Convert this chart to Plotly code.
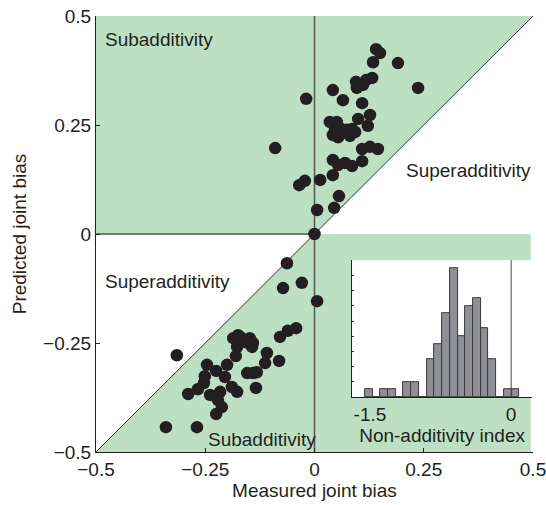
import plotly.graph_objects as go

# ---- data ----
measured = [0.141, 0.150, 0.134, 0.191, 0.237, 0.132, 0.118, 0.095, 0.097, 0.111,
            0.042, 0.065, 0.109, -0.019, 0.127, 0.100, 0.035, 0.051, 0.122, 0.042,
            0.047, 0.058, 0.074, 0.086, 0.093, 0.081, 0.054, 0.109, 0.127, 0.145,
            0.042, 0.054, 0.070, 0.086, 0.109, 0.042, 0.013, -0.022, -0.035, 0.056,
            0.006, 0.045, -0.090, 0.000,
            -0.315, -0.340, -0.269, -0.246, -0.251, -0.225, -0.200, -0.205, -0.289, -0.267,
            -0.253, -0.239, -0.216, -0.221, -0.212, -0.225, -0.189, -0.177, -0.180, -0.177,
            -0.186, -0.175, -0.148, -0.141, -0.143, -0.154, -0.141, -0.132, -0.109, -0.113,
            -0.081, -0.134, -0.079, -0.061, -0.042, -0.063, -0.072, -0.029, 0.006, -0.170,
            -0.157]
predicted = [0.424, 0.415, 0.394, 0.392, 0.335, 0.358, 0.353, 0.349, 0.335, 0.342,
             0.330, 0.307, 0.300, 0.310, 0.273, 0.264, 0.257, 0.257, 0.248, 0.227,
             0.239, 0.243, 0.239, 0.241, 0.234, 0.225, 0.222, 0.195, 0.200, 0.195,
             0.170, 0.158, 0.163, 0.156, 0.167, 0.135, 0.124, 0.122, 0.112, 0.087,
             0.055, 0.060, 0.197, 0.000,
             -0.278, -0.443, -0.443, -0.300, -0.326, -0.314, -0.300, -0.328, -0.367, -0.356,
             -0.342, -0.369, -0.362, -0.381, -0.397, -0.413, -0.351, -0.362, -0.280, -0.259,
             -0.239, -0.232, -0.239, -0.250, -0.259, -0.319, -0.319, -0.317, -0.273, -0.296,
             -0.291, -0.353, -0.236, -0.222, -0.216, -0.067, -0.124, -0.112, -0.154, -0.236,
             -0.248]

hist_centers = [-1.512, -1.430, -1.348, -1.266, -1.184, -1.102, -1.020, -0.938, -0.856, -0.774,
                -0.692, -0.610, -0.528, -0.446, -0.364, -0.282, -0.200, -0.118, -0.036, 0.046]
hist_counts = [1, 0, 1, 1, 0, 2, 2, 0, 5, 7, 11, 17, 8, 12, 13, 9, 5, 0, 1, 1]
hist_width = 0.082

main_ticks = [-0.5, -0.25, 0, 0.25, 0.5]
main_ticktext = ["\u22120.5", "\u22120.25", "0", "0.25", "0.5"]
inset_ticks = [-1.5, 0]
inset_ticktext = ["-1.5", "0"]

FONT = "Liberation Sans, Arial, sans-serif"
GREEN = "rgb(189,224,196)"
FS = 19

fig = go.Figure()

fig.add_trace(go.Scatter(
    x=measured, y=predicted, mode="markers",
    marker=dict(size=12.5, color="#231f20", line=dict(width=0)),
    showlegend=False, hoverinfo="x+y", cliponaxis=False))

fig.add_trace(go.Bar(
    x=hist_centers, y=hist_counts, width=hist_width,
    marker=dict(color="#8e9095", line=dict(color="#3a3a3a", width=1)),
    xaxis="x2", yaxis="y2", showlegend=False))

shapes = [
    # green regions (subadditivity)
    dict(type="path", xref="x", yref="y", layer="below", line=dict(width=0),
         fillcolor=GREEN, path="M -0.5 0 L -0.5 0.5 L 0.5 0.5 L 0 0 Z"),
    dict(type="path", xref="x", yref="y", layer="below", line=dict(width=0),
         fillcolor=GREEN, path="M 0 0 L -0.5 -0.5 L 0.495 -0.5 L 0.495 0 Z"),
    # reference lines
    dict(type="line", xref="x", yref="y", x0=-0.5, y0=-0.5, x1=0.5, y1=0.5,
         line=dict(color="#333333", width=1), layer="above"),
    dict(type="line", xref="x", yref="y", x0=0, y0=-0.5, x1=0, y1=0.5,
         line=dict(color="#555555", width=1.5), layer="below"),
    dict(type="line", xref="x", yref="y", x0=-0.5, y0=0, x1=0, y1=0,
         line=dict(color="#555555", width=1.5), layer="below"),
    # inset white background
    dict(type="rect", xref="x2 domain", yref="y2 domain", x0=0, y0=0, x1=1, y1=1,
         fillcolor="white", line=dict(width=0), layer="below"),
    # inset zero line
    dict(type="line", xref="x2", yref="y2 domain", x0=0, y0=0, x1=0, y1=1,
         line=dict(color="#444444", width=1), layer="above"),
]

annotations = [
    dict(text="Subadditivity", x=-0.485, y=0.445, xref="x", yref="y",
         xanchor="left", yanchor="middle", showarrow=False),
    dict(text="Superadditivity", x=0.205, y=0.145, xref="x", yref="y",
         xanchor="left", yanchor="middle", showarrow=False),
    dict(text="Superadditivity", x=-0.485, y=-0.108, xref="x", yref="y",
         xanchor="left", yanchor="middle", showarrow=False),
    dict(text="Subadditivity", x=-0.248, y=-0.472, xref="x", yref="y",
         xanchor="left", yanchor="middle", showarrow=False),
]

fig.update_layout(
    width=546, height=505,
    margin=dict(l=96, r=13, t=16, b=53, autoexpand=False),
    paper_bgcolor="white", plot_bgcolor="white",
    font=dict(family=FONT, size=FS, color="#231f20"),
    shapes=shapes, annotations=annotations,
    showlegend=False,
    xaxis=dict(range=[-0.5, 0.5], domain=[0, 1], tickvals=main_ticks, ticktext=main_ticktext,
               ticks="inside", ticklen=4, tickcolor="#231f20", ticklabeloverflow="allow",
               automargin=False,
               showline=True, linecolor="#231f20", linewidth=1, mirror=False,
               showgrid=False, zeroline=False,
               title=dict(text="Measured joint bias", standoff=4, font=dict(size=FS))),
    yaxis=dict(range=[-0.5, 0.5], domain=[0, 1], tickvals=main_ticks, ticktext=main_ticktext,
               ticks="inside", ticklen=4, tickcolor="#231f20", ticklabeloverflow="allow",
               automargin=False,
               showline=True, linecolor="#231f20", linewidth=1,
               showgrid=False, zeroline=False,
               title=dict(text="Predicted joint bias", standoff=11, font=dict(size=FS))),
    xaxis2=dict(domain=[0.586, 0.998], anchor="y2", range=[-1.69, 0.223],
                tickvals=inset_ticks, ticktext=inset_ticktext, ticks="",
                showline=True, linecolor="#231f20", linewidth=1,
                showgrid=False, zeroline=False,
                title=dict(text="Non-additivity index", standoff=0, font=dict(size=FS))),
    yaxis2=dict(domain=[0.126, 0.44], anchor="x2", range=[0, 18],
                tickvals=list(range(0, 19, 2)), showticklabels=False,
                ticks="inside", ticklen=2, tickcolor="#231f20",
                showline=True, linecolor="#231f20", linewidth=1,
                showgrid=False, zeroline=False),
    bargap=0,
)

fig.write_html("out.html")
